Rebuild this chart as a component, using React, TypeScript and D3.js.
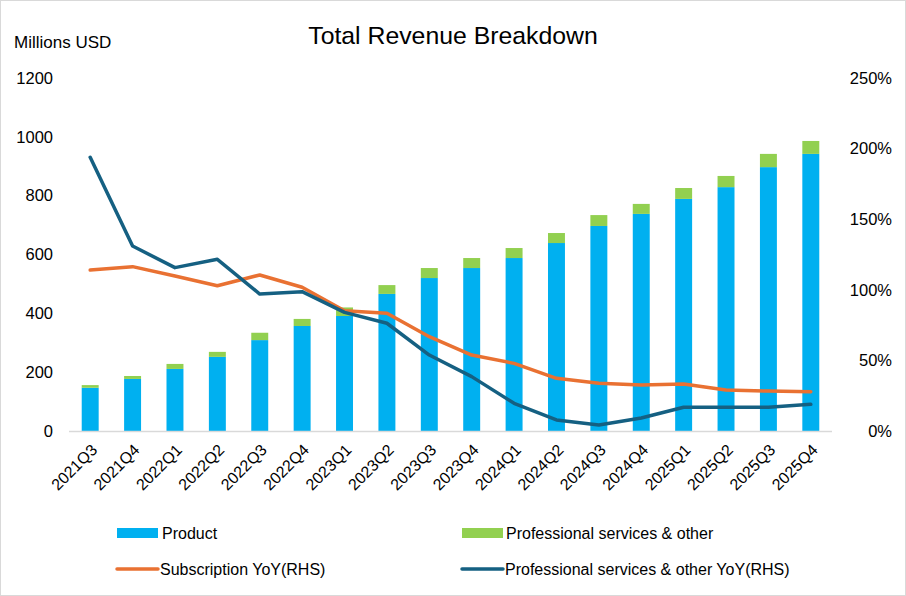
import React from "react";
import * as d3 from "d3";

const categories = ["2021Q3","2021Q4","2022Q1","2022Q2","2022Q3","2022Q4","2023Q1","2023Q2","2023Q3","2023Q4","2024Q1","2024Q2","2024Q3","2024Q4","2025Q1","2025Q2","2025Q3","2025Q4"];
const product = [147,177,211,252,309,357,391,466,520,554,588,639,697,738,789,829,897,942];
const services = [9,10,17,17,25,24,29,30,34,34,34,34,37,34,37,38,45,44];
const subscriptionYoY = [114,116.4,109.8,102.9,110.5,101.8,85.2,83.4,66.8,53.8,47.9,37.3,33.8,32.6,33.3,29,28.3,27.8];
const servicesYoY = [193.8,131,115.7,121.6,97,98.7,84,76.3,53.8,38.5,19.6,7.8,4.2,9.2,16.8,16.8,16.8,18.9];
const leftTicks = [0,200,400,600,800,1000,1200];
const rightTicks = [0,50,100,150,200,250];

const W = 906, H = 596;
const FONT = "'Liberation Sans', Arial, sans-serif";
const C_PRODUCT = "#00B0F0";
const C_SERV = "#92D050";
const C_SUB = "#E97132";
const C_SERVYOY = "#156082";

export default function App() {
  const x = d3.scaleBand<string>().domain(categories).range([69, 832]).paddingInner(0.6).paddingOuter(0.3);
  const yL = d3.scaleLinear().domain([0, 1200]).range([431, 78]);
  const yR = d3.scaleLinear().domain([0, 250]).range([431, 78]);
  const cx = (c: string) => (x(c) as number) + x.bandwidth() / 2;
  const line = d3.line<number>().x((_, i) => cx(categories[i])).y((v) => yR(v));

  return (
    <svg width={W} height={H} style={{ position: "fixed", left: 0, top: 0, background: "#fff" }} fontFamily={FONT}>
      <rect x={0.5} y={0.5} width={W - 1} height={H - 1} fill="#fff" stroke="#d9d9d9" />
      <text x={453} y={44} textAnchor="middle" fontSize={24.8} fill="#000">Total Revenue Breakdown</text>
      <text x={14} y={48} fontSize={17} fill="#000">Millions USD</text>
      {leftTicks.map((t) => (
        <text key={"l" + t} x={53} y={yL(t)} dy="0.35em" textAnchor="end" fontSize={16.5} fill="#000">{t}</text>
      ))}
      {rightTicks.map((t) => (
        <text key={"r" + t} x={892} y={yR(t)} dy="0.35em" textAnchor="end" fontSize={16.5} fill="#000">{t + "%"}</text>
      ))}
      {categories.map((c, i) => (
        <g key={c}>
          <rect x={x(c)} y={yL(product[i])} width={x.bandwidth()} height={yL(0) - yL(product[i])} fill={C_PRODUCT} />
          <rect x={x(c)} y={yL(product[i] + services[i])} width={x.bandwidth()} height={yL(product[i]) - yL(product[i] + services[i])} fill={C_SERV} />
        </g>
      ))}
      <line x1={69} x2={832} y1={431.5} y2={431.5} stroke="#d9d9d9" strokeWidth={1.5} />
      {categories.map((c) => (
        <text key={"x" + c} transform={`translate(${cx(c) + 8},451) rotate(-45)`} textAnchor="end" fontSize={16} fill="#000">{c}</text>
      ))}
      <path d={line(subscriptionYoY) || ""} fill="none" stroke={C_SUB} strokeWidth={3.5} strokeLinejoin="round" strokeLinecap="round" />
      <path d={line(servicesYoY) || ""} fill="none" stroke={C_SERVYOY} strokeWidth={3.5} strokeLinejoin="round" strokeLinecap="round" />
      {/* legend */}
      <rect x={117} y={528} width={41} height={10} fill={C_PRODUCT} />
      <text x={162} y={539} fontSize={16} fill="#000">Product</text>
      <rect x={462} y={528} width={41} height={10} fill={C_SERV} />
      <text x={506} y={539} fontSize={16} fill="#000">Professional services &amp; other</text>
      <line x1={117} x2={158} y1={569} y2={569} stroke={C_SUB} strokeWidth={3.5} strokeLinecap="round" />
      <text x={160} y={575} fontSize={16} fill="#000">Subscription YoY(RHS)</text>
      <line x1={462} x2={503} y1={569} y2={569} stroke={C_SERVYOY} strokeWidth={3.5} strokeLinecap="round" />
      <text x={505} y={575} fontSize={16} fill="#000">Professional services &amp; other YoY(RHS)</text>
    </svg>
  );
}
